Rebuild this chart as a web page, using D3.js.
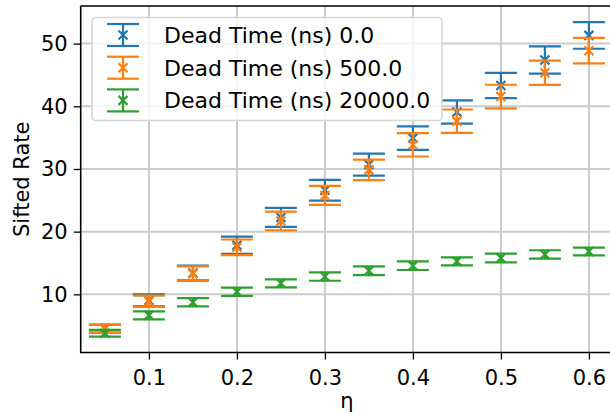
<!DOCTYPE html>
<html>
<head>
<meta charset="utf-8">
<script src="https://cdn.jsdelivr.net/npm/d3@7"></script>
<style>
  html, body { margin: 0; padding: 0; background: #fff; }
  svg { display: block; font-family: "DejaVu Sans", sans-serif; }
</style>
</head>
<body>
<div id="chart"></div>
<script>
/* data */
const eta = [0.05, 0.10, 0.15, 0.20, 0.25, 0.30, 0.35, 0.40, 0.45, 0.50, 0.55, 0.60];
const rate0 = [4.54, 9.04, 13.40, 17.83, 22.27, 26.61, 30.70, 34.92, 39.09, 43.32, 47.38, 51.31];
const err0 = [0.64, 0.96, 1.17, 1.38, 1.52, 1.65, 1.76, 1.86, 1.84, 2.02, 2.18, 2.13];
const rate500 = [4.51, 8.88, 13.30, 17.50, 21.71, 25.78, 29.86, 33.85, 37.63, 41.55, 45.35, 48.87];
const err500 = [0.64, 0.90, 1.15, 1.25, 1.49, 1.52, 1.64, 1.86, 1.86, 1.89, 1.92, 2.03];
const rate20000 = [3.80, 6.65, 8.74, 10.40, 11.76, 12.84, 13.77, 14.57, 15.27, 15.80, 16.36, 16.84];
const err20000 = [0.54, 0.64, 0.66, 0.66, 0.64, 0.67, 0.69, 0.69, 0.64, 0.69, 0.67, 0.61];
const seriesNames = ['Dead Time (ns) 0.0', 'Dead Time (ns) 500.0', 'Dead Time (ns) 20000.0'];
const xTicks = [0.1, 0.2, 0.3, 0.4, 0.5, 0.6];
const yTicks = [10, 20, 30, 40, 50];

const colors = ['#1f77b4', '#ff7f0e', '#2ca02c'];
const series = [
  { name: seriesNames[0], y: rate0, e: err0 },
  { name: seriesNames[1], y: rate500, e: err500 },
  { name: seriesNames[2], y: rate20000, e: err20000 }
];

const W = 610, H = 413;
const L = 80.7, R = 613.1, T = 6, B = 352.5;

const svg = d3.select('#chart').append('svg').attr('width', W).attr('height', H);

const x = d3.scaleLinear().domain([0.0225, 0.6275]).range([L, R]);
const y = d3.scaleLinear().domain([0.72, 56.0]).range([B, T]);

/* grid */
const grid = svg.append('g').attr('stroke', '#cbcbcb').attr('stroke-width', 2);
grid.selectAll('.gx').data(xTicks).join('line')
  .attr('x1', d => x(d)).attr('x2', d => x(d)).attr('y1', T).attr('y2', B);
grid.selectAll('.gy').data(yTicks).join('line')
  .attr('y1', d => y(d)).attr('y2', d => y(d)).attr('x1', L).attr('x2', W);

/* axes */
const xAxis = svg.append('g').attr('transform', `translate(0,${B})`)
  .call(d3.axisBottom(x).tickValues(xTicks).tickSize(7).tickPadding(6).tickFormat(d3.format('.1f')));
const yAxis = svg.append('g').attr('transform', `translate(${L},0)`)
  .call(d3.axisLeft(y).tickValues(yTicks).tickSize(7).tickPadding(6).tickFormat(d3.format('d')));
[xAxis, yAxis].forEach(a => {
  a.select('.domain').remove();
  a.selectAll('line').attr('stroke', '#000').attr('stroke-width', 1.3);
  a.selectAll('text').attr('font-size', 21).attr('font-family', '"DejaVu Sans", sans-serif').attr('fill', '#000');
});
xAxis.selectAll('text').attr('dy', '0.93em');

/* spines (right side is cut off by the frame) */
svg.append('path')
  .attr('d', `M${L},${T}H${W + 5}M${L},${T}V${B}H${W + 5}`)
  .attr('fill', 'none').attr('stroke', '#000').attr('stroke-width', 1.6);

svg.append('text').attr('x', x(0.325)).attr('y', 408).attr('text-anchor', 'middle')
  .attr('font-size', 21).text('η');
svg.append('text').attr('transform', `translate(29,${(T + B) / 2}) rotate(-90)`)
  .attr('text-anchor', 'middle').attr('font-size', 21).text('Sifted Rate');

/* error bars */
const capW = 16, mk = 4.5;
function drawErr(g, cx, cy, top, bot) {
  g.append('line').attr('x1', cx).attr('x2', cx).attr('y1', top).attr('y2', bot);
  g.append('line').attr('x1', cx - capW).attr('x2', cx + capW).attr('y1', top).attr('y2', top);
  g.append('line').attr('x1', cx - capW).attr('x2', cx + capW).attr('y1', bot).attr('y2', bot);
  g.append('path').attr('d', `M${cx - mk},${cy - mk}L${cx + mk},${cy + mk}M${cx - mk},${cy + mk}L${cx + mk},${cy - mk}`);
}

series.forEach((s, i) => {
  const g = svg.append('g').attr('stroke', colors[i]).attr('stroke-width', 2.2).attr('fill', 'none');
  eta.forEach((v, j) => {
    drawErr(g, x(v), y(s.y[j]), y(s.y[j] + s.e[j]), y(s.y[j] - s.e[j]));
  });
});

/* legend */
const leg = svg.append('g');
leg.append('rect').attr('x', 92).attr('y', 17.5).attr('width', 350).attr('height', 103).attr('rx', 4)
  .attr('fill', 'rgba(255,255,255,0.8)').attr('stroke', '#d6d6d6').attr('stroke-width', 1.6);
series.forEach((s, i) => {
  const cy = 35 + i * 32.7;
  const g = leg.append('g').attr('stroke', colors[i]).attr('stroke-width', 2.2).attr('fill', 'none');
  const cx = 123, hw = 16;
  g.append('line').attr('x1', cx).attr('x2', cx).attr('y1', cy - 11).attr('y2', cy + 11);
  g.append('line').attr('x1', cx - hw).attr('x2', cx + hw).attr('y1', cy - 11).attr('y2', cy - 11);
  g.append('line').attr('x1', cx - hw).attr('x2', cx + hw).attr('y1', cy + 11).attr('y2', cy + 11);
  g.append('path').attr('d', `M${cx - mk},${cy - mk}L${cx + mk},${cy + mk}M${cx - mk},${cy + mk}L${cx + mk},${cy - mk}`);
  leg.append('text').attr('x', 164).attr('y', cy).attr('dy', '0.36em')
    .attr('font-size', 22).attr('fill', '#000').text(s.name);
});
</script>
</body>
</html>
